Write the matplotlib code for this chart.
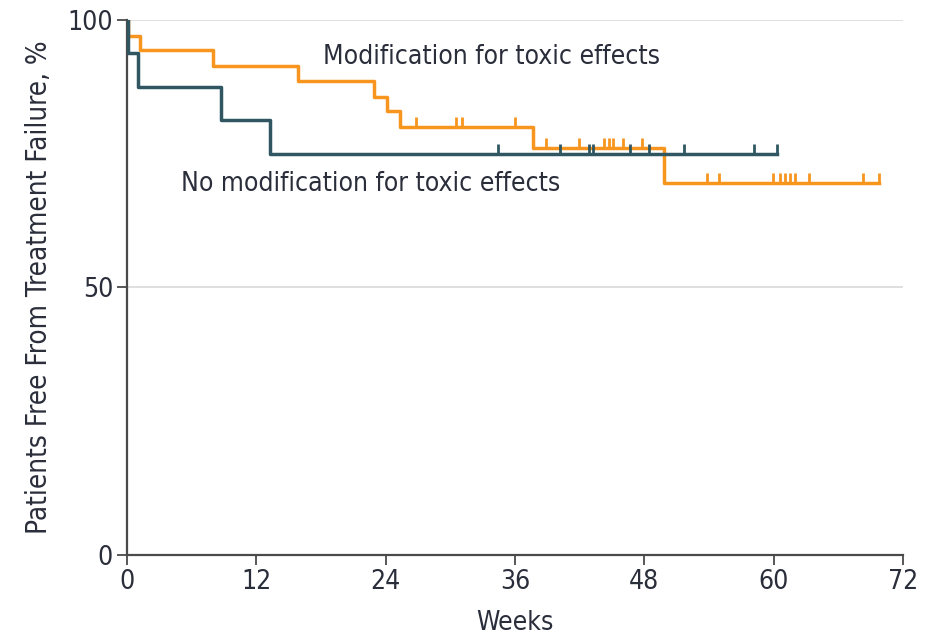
import matplotlib
matplotlib.use('Agg')
import matplotlib.pyplot as plt

plt.rcParams['font.family'] = ['DejaVu Sans']
plt.rcParams['font.stretch'] = 'condensed'

# step curves (week where the curve changes, survival % after it)
mod_weeks = [0, 0.1, 1.26, 7.95, 15.9, 22.9, 24.1, 25.3, 37.7, 49.85, 69.8]
mod_surv = [100, 97.1, 94.3, 91.4, 88.6, 85.7, 82.9, 80.0, 76.0, 69.5, 69.5]
mod_censor = [26.8, 30.5, 31.06, 36.0, 38.9, 41.9, 44.3, 44.7, 45.1, 46.0, 47.8,
              53.8, 54.9, 59.9, 60.6, 61.05, 61.5, 62.0, 63.3, 68.3, 69.8]

nomod_weeks = [0, 0.1, 0.99, 8.7, 13.3, 60.3]
nomod_surv = [100, 93.75, 87.5, 81.25, 75.0, 75.0]
nomod_censor = [34.45, 40.2, 42.85, 43.2, 46.7, 48.4, 51.7, 58.2, 60.3]

orange = '#F7951F'
teal = '#2F5661'
txt = '#2A2D3A'
axcol = '#4A4A4A'


def surv_at(weeks, surv, t):
    val = surv[0]
    for w, s in zip(weeks, surv):
        if w <= t:
            val = s
    return val


fig = plt.figure(figsize=(9.4, 6.39), dpi=100)
ax = fig.add_axes([0.135, 0.1315, 0.8256, 0.8372])

ax.axhline(50, color='#D9D9D9', lw=1.2, zorder=0)
ax.axhline(100, color='#D9D9D9', lw=1.2, zorder=0)

ax.step(nomod_weeks, nomod_surv, where='post', color=teal, lw=2.5, zorder=3)
ax.step(mod_weeks, mod_surv, where='post', color=orange, lw=2.5, zorder=2)

for t in nomod_censor:
    s = surv_at(nomod_weeks, nomod_surv, t)
    ax.vlines(t, s, s + 1.9, color=teal, lw=2.0, zorder=3)
for t in mod_censor:
    s = surv_at(mod_weeks, mod_surv, t)
    ax.vlines(t, s, s + 1.9, color=orange, lw=2.0, zorder=2)

ax.text(18.2, 93.0, 'Modification for toxic effects', fontsize=19, color=txt,
        va='center', ha='left')
ax.text(5.0, 69.3, 'No modification for toxic effects', fontsize=19, color=txt,
        va='center', ha='left')

ax.set_xlim(0, 72)
ax.set_ylim(0, 100)
ax.set_xticks(range(0, 73, 12))
ax.set_yticks([0, 50, 100])
ax.tick_params(direction='out', length=7, width=1.3, color=axcol,
               labelsize=19, labelcolor=txt, pad=3)
ax.set_xlabel('Weeks', fontsize=19, color=txt, labelpad=11)
ax.set_ylabel('Patients Free From Treatment Failure, %', fontsize=20, color=txt,
              labelpad=10)

for side in ['top', 'right']:
    ax.spines[side].set_visible(False)
for side in ['left', 'bottom']:
    ax.spines[side].set_color(axcol)
    ax.spines[side].set_linewidth(1.6)

fig.savefig('out.png', dpi=100)
